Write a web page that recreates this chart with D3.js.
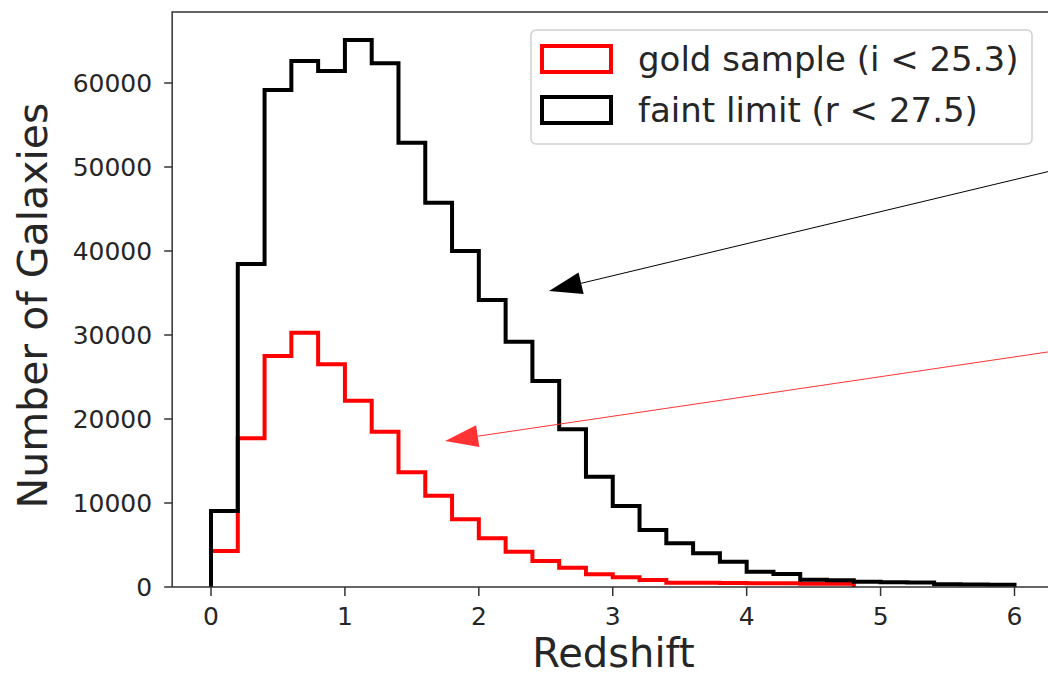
<!DOCTYPE html>
<html><head><meta charset="utf-8">
<script src="https://cdn.jsdelivr.net/npm/d3@7"></script>
<style>
body{margin:0;background:#fff}
svg{display:block}
text{font-family:"DejaVu Sans",sans-serif;fill:#262626}
</style>
</head><body>
<svg id="c" width="1048" height="675"></svg>
<script>
// ---- data ----
const binStarts = [0,0.2,0.4,0.6,0.8,1.0,1.2,1.4,1.6,1.8,2.0,2.2,2.4,2.6,2.8,3.0,3.2,3.4,3.6,3.8,4.0,4.2,4.4,4.6,4.8,5.0,5.2,5.4,5.6,5.8];
const binWidth = 0.2;
const faintCounts = [9050,38450,59170,62620,61430,65120,62340,52890,45750,40000,34170,29200,24520,18770,13130,9640,6790,5200,4010,3010,1820,1550,850,800,620,580,540,330,300,260];
const goldCounts = [4290,17700,27500,30280,26510,22180,18490,13650,10870,8060,5800,4200,3100,2300,1510,1150,830,520,500,480,460,450,400,380];
const seriesNames = ["gold sample (i < 25.3)", "faint limit (r < 27.5)"];
const seriesColors = ["#ff0000", "#000000"];
const xTicks = [0,1,2,3,4,5,6];
const yTicks = [0,10000,20000,30000,40000,50000,60000];
const xLabel = "Redshift";
const yLabel = "Number of Galaxies";
// annotation arrows in data coordinates [redshift, count]
const arrowTails = [[6.3,49640],[6.3,28100]];
const arrowTips = [[2.524,35240],[1.748,17380]];
const arrowColors = ["#000000","#ff3333"];

// ---- layout ----
const svg = d3.select("#c");
const x = d3.scaleLinear().domain([0,6]).range([211,1014.5]);
const y = d3.scaleLinear().domain([0,60000]).range([587,83]);
const xMin = -0.29, xMax = 6.3, yMax = 68450;
const L = x(xMin), R = x(xMax), T = y(yMax), B = y(0);

function stepPoints(vals){
  const pts = [[x(binStarts[0]), y(0)]];
  vals.forEach((v,i)=>{
    pts.push([x(binStarts[i]), y(v)]);
    pts.push([x(binStarts[i]+binWidth), y(v)]);
  });
  pts.push([x(binStarts[vals.length-1]+binWidth), y(0)]);
  return pts;
}
const line = d3.line();

const plot = svg.append("g");
[goldCounts, faintCounts].forEach((vals,i)=>{
  plot.append("path")
    .attr("d", line(stepPoints(vals)))
    .attr("fill","none")
    .attr("stroke", seriesColors[i])
    .attr("stroke-width", 4)
    .attr("stroke-linejoin","miter");
});

// frame
svg.append("path")
  .attr("d", `M${L},${B}H${R}M${L},${B}V${T}H${R}`)
  .attr("fill","none").attr("stroke","#333").attr("stroke-width",1.5);

// x axis ticks
const xg = svg.append("g");
xTicks.forEach(t=>{
  xg.append("line").attr("x1",x(t)).attr("x2",x(t)).attr("y1",B).attr("y2",B+9)
    .attr("stroke","#333").attr("stroke-width",1.5);
  xg.append("text").attr("x",x(t)).attr("y",B+38).attr("text-anchor","middle")
    .attr("font-size",25).text(d3.format("d")(t));
});
const yg = svg.append("g");
yTicks.forEach(t=>{
  yg.append("line").attr("x1",L-8).attr("x2",L).attr("y1",y(t)).attr("y2",y(t))
    .attr("stroke","#333").attr("stroke-width",1.5);
  yg.append("text").attr("x",L-20).attr("y",y(t)).attr("dy","0.36em").attr("text-anchor","end")
    .attr("font-size",25).text(d3.format("d")(t));
});

svg.append("text").attr("x",(L+R)/2).attr("y",667).attr("text-anchor","middle")
  .attr("font-size",40).text(xLabel);
svg.append("text").attr("transform",`translate(47,${(T+B)/2+6}) rotate(-90)`)
  .attr("text-anchor","middle").attr("font-size",41).text(yLabel);

// arrows
arrowTails.forEach((tail,i)=>{
  const [x0,y0] = [x(tail[0]), y(tail[1])];
  const [x1,y1] = [x(arrowTips[i][0]), y(arrowTips[i][1])];
  const dx = x1-x0, dy = y1-y0, len = Math.hypot(dx,dy);
  const ux = dx/len, uy = dy/len;
  const hl = 33, hw = 11;
  const bx = x1-ux*hl, by = y1-uy*hl;
  svg.append("line").attr("x1",x0).attr("y1",y0).attr("x2",bx).attr("y2",by)
    .attr("stroke",arrowColors[i]).attr("stroke-width",1);
  svg.append("path")
    .attr("d",`M${x1},${y1}L${bx-uy*hw},${by+ux*hw}L${bx+uy*hw},${by-ux*hw}Z`)
    .attr("fill",arrowColors[i]);
});

// legend
const lg = svg.append("g");
lg.append("rect").attr("x",531).attr("y",30).attr("width",501).attr("height",114)
  .attr("rx",5).attr("fill","#fff").attr("fill-opacity",0.8).attr("stroke","#d0d0d0").attr("stroke-width",1.5);
seriesNames.forEach((n,i)=>{
  const cy = 59 + i*51;
  lg.append("rect").attr("x",542).attr("y",cy-13).attr("width",69).attr("height",26)
    .attr("fill","none").attr("stroke",seriesColors[i]).attr("stroke-width",4);
  lg.append("text").attr("x",638).attr("y",cy).attr("dy","0.36em").attr("font-size",34).text(n);
});
</script>
</body></html>
